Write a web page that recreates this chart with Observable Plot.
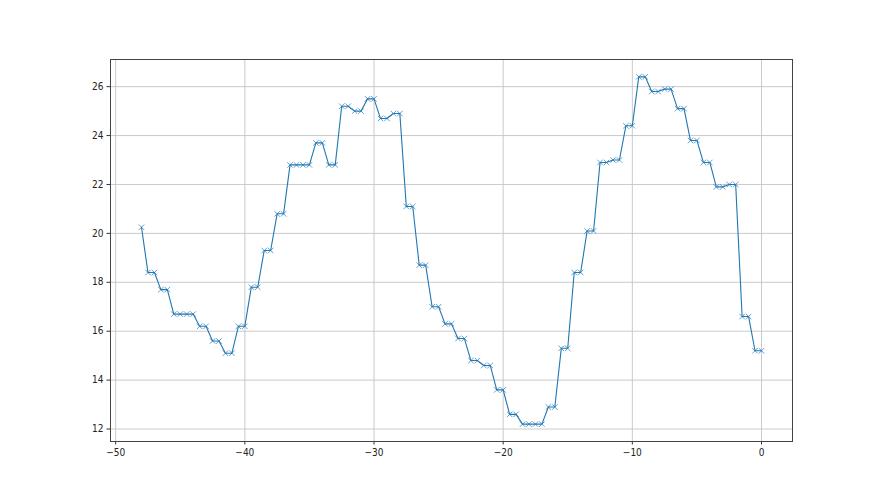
<!DOCTYPE html>
<html>
<head>
<meta charset="utf-8">
<script src="https://cdn.jsdelivr.net/npm/d3@7"></script>
<script src="https://cdn.jsdelivr.net/npm/@observablehq/plot@0.6"></script>
<style>
  html, body { margin: 0; padding: 0; background: #fff; }
</style>
</head>
<body>
<div id="chart"></div>
<script>
const xValues = [-48, -47.5, -47, -46.5, -46, -45.5, -45, -44.5, -44, -43.5, -43, -42.5, -42, -41.5, -41, -40.5, -40,
  -39.5, -39, -38.5, -38, -37.5, -37, -36.5, -36, -35.5, -35, -34.5, -34, -33.5, -33, -32.5, -32, -31.5, -31, -30.5, -30,
  -29.5, -29, -28.5, -28, -27.5, -27, -26.5, -26, -25.5, -25, -24.5, -24, -23.5, -23, -22.5, -22, -21.5, -21, -20.5, -20,
  -19.5, -19, -18.5, -18, -17.5, -17, -16.5, -16, -15.5, -15, -14.5, -14, -13.5, -13, -12.5, -12, -11.5, -11, -10.5, -10,
  -9.5, -9, -8.5, -8, -7.5, -7, -6.5, -6, -5.5, -5, -4.5, -4, -3.5, -3, -2.5, -2, -1.5, -1, -0.5, 0];
const yValues = [20.25, 18.4, 18.4, 17.7, 17.7, 16.7, 16.7, 16.7, 16.7, 16.2, 16.2, 15.6, 15.6, 15.1, 15.1, 16.2, 16.2,
  17.8, 17.8, 19.3, 19.3, 20.8, 20.8, 22.8, 22.8, 22.8, 22.8, 23.7, 23.7, 22.8, 22.8, 25.2, 25.2, 25.0, 25.0, 25.5, 25.5,
  24.7, 24.7, 24.9, 24.9, 21.1, 21.1, 18.7, 18.7, 17.0, 17.0, 16.3, 16.3, 15.7, 15.7, 14.8, 14.8, 14.6, 14.6, 13.6, 13.6,
  12.6, 12.6, 12.2, 12.2, 12.2, 12.2, 12.9, 12.9, 15.3, 15.3, 18.4, 18.4, 20.1, 20.1, 22.9, 22.9, 23.0, 23.0, 24.4, 24.4,
  26.4, 26.4, 25.8, 25.8, 25.9, 25.9, 25.1, 25.1, 23.8, 23.8, 22.9, 22.9, 21.9, 21.9, 22.0, 22.0, 16.6, 16.6, 15.2, 15.2];
const xTicks = [-50, -40, -30, -20, -10, 0];
const yTicks = [12, 14, 16, 18, 20, 22, 24, 26];

const data = xValues.map((x, i) => ({x, y: yValues[i]}));

const xMin = d3.min(xValues), xMax = d3.max(xValues);
const yMin = d3.min(yValues), yMax = d3.max(yValues);
const xPad = (xMax - xMin) * 0.05, yPad = (yMax - yMin) * 0.05;
const fmt = d3.format("d");

const chart = Plot.plot({
  width: 880,
  height: 495,
  marginLeft: 110,
  marginRight: 88,
  marginTop: 59,
  marginBottom: 54,
  style: {fontFamily: "DejaVu Sans Condensed, DejaVu Sans", fontSize: "10px", background: "#fff", color: "#222"},
  x: {domain: [xMin - xPad, xMax + xPad], label: null},
  y: {domain: [yMin - yPad, yMax + yPad], label: null},
  marks: [
    Plot.gridX(xTicks, {stroke: "#c4c4c4", strokeOpacity: 1, strokeWidth: 0.9}),
    Plot.gridY(yTicks, {stroke: "#c4c4c4", strokeOpacity: 1, strokeWidth: 0.9}),
    Plot.axisX({ticks: xTicks, tickFormat: fmt, tickSize: 3.5, tickPadding: 3.5, fontSize: 10, label: null, stroke: "#333"}),
    Plot.axisY({ticks: yTicks, tickFormat: fmt, tickSize: 3.5, tickPadding: 3.5, fontSize: 10, label: null, stroke: "#333"}),
    Plot.line(data, {x: "x", y: "y", stroke: "#1f77b4", strokeWidth: 1.1}),
    Plot.dot(data, {x: "x", y: "y", symbol: "times", r: 2.6, stroke: "#1f77b4", strokeWidth: 0.7}),
    Plot.frame({stroke: "#444", strokeWidth: 1})
  ]
});
document.getElementById("chart").appendChild(chart);
</script>
</body>
</html>
